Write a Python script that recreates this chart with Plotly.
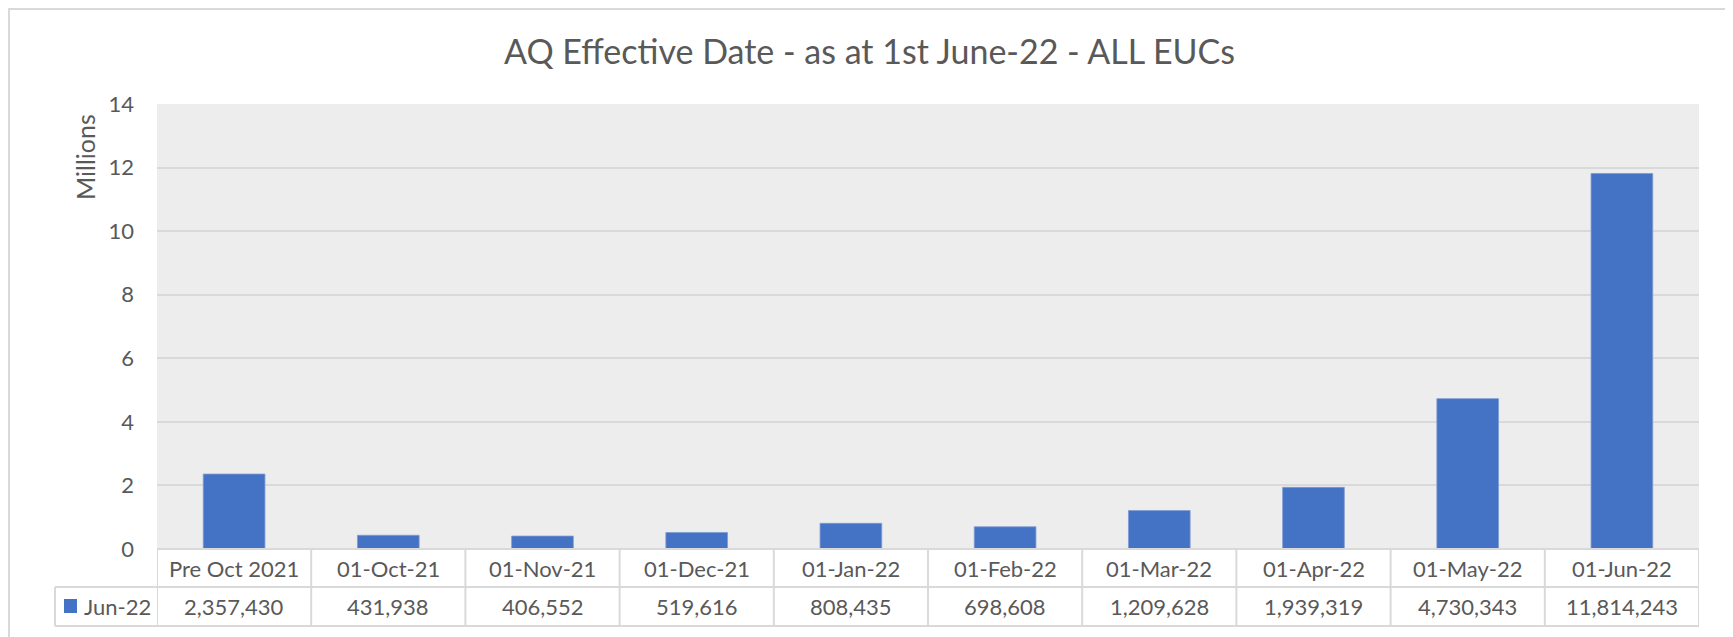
import plotly.graph_objects as go

# ---- data ----
categories = ["Pre Oct 2021", "01-Oct-21", "01-Nov-21", "01-Dec-21", "01-Jan-22",
              "01-Feb-22", "01-Mar-22", "01-Apr-22", "01-May-22", "01-Jun-22"]
values = [2357430, 431938, 406552, 519616, 808435, 698608, 1209628, 1939319, 4730343, 11814243]
series_name = "Jun-22"
title_text = "AQ Effective Date - as at 1st June-22 - ALL EUCs"
y_title = "Millions"
y_ticks = [0, 2, 4, 6, 8, 10, 12, 14]

# ---- layout geometry (window pixels; page body has an 8px margin) ----
OFF = 8
W, H = 1733 - OFF, 637 - OFF
PL, PR, PT, PB = 157, 1699, 104, 549   # plot area in window pixels
ROW1_B, ROW2_B = 587, 626              # table row bottoms
LEG_L = 55
FONT = "Lato"
TXT = "#595959"
LINE = "#D9D9D9"
BLUE = "#4472C4"


def py(p):  # window pixel y -> paper y
    return (PB - p) / (PB - PT)


def px(p):  # window pixel x -> paper x
    return (p - PL) / (PR - PL)


fig = go.Figure()
fig.add_trace(go.Bar(
    x=categories,
    y=[v / 1e6 for v in values],
    name=series_name,
    marker=dict(color=BLUE, line=dict(color="#7E9BD3", width=0.8)),
    width=0.4,
    showlegend=False,
    hoverinfo="skip",
))

shapes = []
annotations = []

# outer chart border
shapes.append(dict(type="rect", xref="paper", yref="paper",
                   x0=px(OFF + 1), x1=px(1729), y0=py(660), y1=py(OFF + 1),
                   line=dict(color=LINE, width=2), fillcolor="rgba(0,0,0,0)", layer="below"))

# table horizontal lines
shapes.append(dict(type="line", xref="paper", yref="paper", x0=0, x1=1, y0=0, y1=0,
                   line=dict(color=LINE, width=2)))
for yb in (ROW1_B, ROW2_B):
    shapes.append(dict(type="line", xref="paper", yref="paper", x0=px(LEG_L), x1=1,
                       y0=py(yb), y1=py(yb), line=dict(color=LINE, width=2)))
# legend cell left edge
shapes.append(dict(type="line", xref="paper", yref="paper", x0=px(LEG_L), x1=px(LEG_L),
                   y0=py(ROW1_B), y1=py(ROW2_B), line=dict(color=LINE, width=2)))
# column separators
for i in range(len(categories) + 1):
    shapes.append(dict(type="line", xref="x", yref="paper", x0=i - 0.5, x1=i - 0.5,
                       y0=0, y1=py(ROW2_B), line=dict(color=LINE, width=2)))

# legend key square
shapes.append(dict(type="rect", xref="paper", yref="paper",
                   x0=px(64), x1=px(77), y0=py(613), y1=py(599),
                   fillcolor=BLUE, line=dict(width=0)))

# table text
for c, v in zip(categories, values):
    annotations.append(dict(x=c, xref="x", y=py((PB + ROW1_B) / 2), yref="paper",
                            text=c, showarrow=False, yanchor="middle", xanchor="center",
                            font=dict(family=FONT, size=22, color=TXT)))
    annotations.append(dict(x=c, xref="x", y=py((ROW1_B + ROW2_B) / 2), yref="paper",
                            text=f"{v:,}", showarrow=False, yanchor="middle", xanchor="center",
                            font=dict(family=FONT, size=22, color=TXT)))
annotations.append(dict(x=px(82), xref="paper", y=py((ROW1_B + ROW2_B) / 2), yref="paper",
                        text=series_name, showarrow=False, xanchor="left", yanchor="middle",
                        font=dict(family=FONT, size=22, color=TXT)))

# title
annotations.append(dict(x=px(869), xref="paper", y=py(50), yref="paper", text=title_text,
                        showarrow=False, xanchor="center", yanchor="middle",
                        font=dict(family=FONT, size=34, color=TXT)))
# y-axis title
annotations.append(dict(x=px(85), xref="paper", y=py(157), yref="paper", text=y_title,
                        showarrow=False, textangle=-90, xanchor="center", yanchor="middle",
                        font=dict(family=FONT, size=25, color=TXT)))

fig.update_layout(
    width=W, height=H,
    margin=dict(l=PL - OFF, r=W - (PR - OFF), t=PT - OFF, b=H - (PB - OFF), pad=0),
    paper_bgcolor="white",
    plot_bgcolor="#EDEDED",
    shapes=shapes,
    annotations=annotations,
    bargap=0.6,
    xaxis=dict(type="category", range=[-0.5, len(categories) - 0.5], showticklabels=False,
               showgrid=False, zeroline=False, showline=False, ticks=""),
    yaxis=dict(range=[0, 14], tickvals=y_ticks, showgrid=True, gridcolor=LINE, gridwidth=2,
               zeroline=False, showline=False, ticks="", ticklabelstandoff=22,
               tickfont=dict(family=FONT, size=22, color=TXT)),
)

fig.write_html("out.html")
